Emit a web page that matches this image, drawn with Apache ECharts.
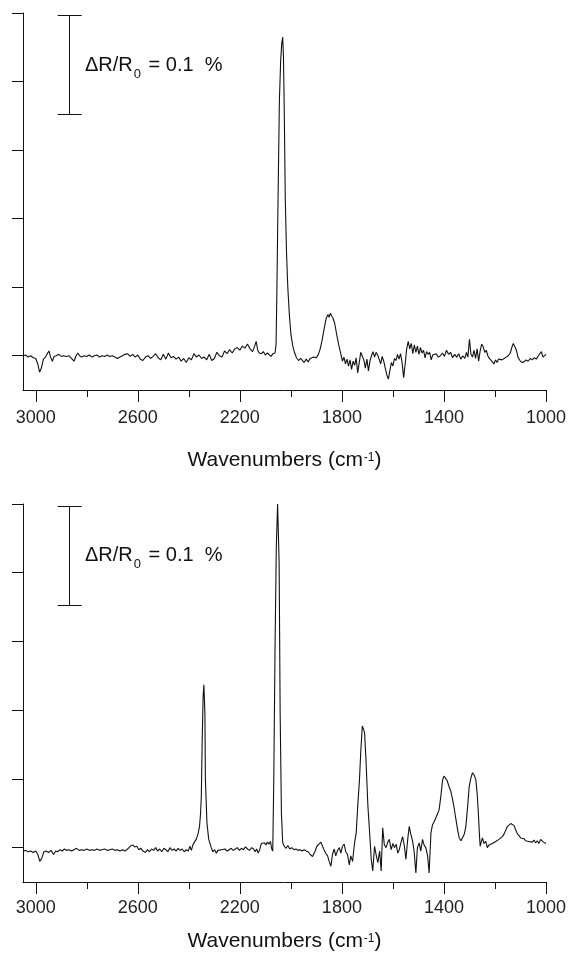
<!DOCTYPE html>
<html>
<head>
<meta charset="utf-8">
<script src="https://cdn.jsdelivr.net/npm/echarts@6/dist/echarts.min.js"></script>
<style>
html, body { margin: 0; padding: 0; background: #fff; }
#chart { width: 569px; height: 955px; }
</style>
</head>
<body>
<div id="chart"></div>
<script>
// tick positions (cm-1) and y ticks (arbitrary units, one unit per tick)
var xTickMajor = [3000, 2600, 2200, 1800, 1400, 1000];
var xTickMinor = [2800, 2400, 2000, 1600, 1200];
var yTicks = [0, 1, 2, 3, 4, 5];

// scale bar  (dR/R0 = 0.1 %)
var scaleBarX = [2914, 2867, 2820];
var scaleBarY = [4.97, 3.52];

// upper spectrum [wavenumber, signal]
var topSpectrum = [
  [3050,0.0],[3040,0.01],[3030,-0.02],[3020,0.0],[3010,-0.03],[3000,-0.04],[2992,-0.12],[2985,-0.24],
  [2978,-0.18],[2970,-0.05],[2962,-0.02],[2955,0.03],[2948,0.07],[2942,-0.02],[2935,-0.08],[2928,-0.01],
  [2920,0.0],[2910,0.02],[2900,-0.01],[2890,0.0],[2880,-0.01],[2870,0.0],[2860,-0.04],[2850,-0.08],
  [2842,0.0],[2835,0.04],[2828,0.0],[2820,-0.02],[2810,0.0],[2800,-0.01],[2790,0.01],[2780,-0.02],
  [2770,0.0],[2760,0.01],[2750,-0.02],[2740,0.0],[2730,-0.01],[2720,0.01],[2710,-0.01],[2700,0.0],
  [2690,-0.02],[2680,-0.04],[2670,-0.02],[2660,0.0],[2650,0.02],[2640,0.03],[2630,-0.01],[2620,0.02],
  [2610,-0.02],[2600,0.01],[2590,-0.05],[2580,-0.07],[2570,-0.02],[2560,0.0],[2550,-0.04],[2540,-0.01],
  [2530,0.03],[2520,-0.03],[2510,-0.06],[2500,0.02],[2490,-0.05],[2480,0.04],[2470,-0.03],[2460,-0.01],
  [2450,-0.05],[2440,-0.02],[2430,-0.08],[2420,-0.04],[2410,-0.1],[2400,-0.03],[2390,-0.06],[2380,0.03],
  [2370,-0.02],[2360,0.01],[2350,-0.04],[2340,-0.02],[2330,-0.06],[2320,0.02],[2310,-0.07],[2300,-0.04],
  [2290,0.05],[2280,0.0],[2270,-0.02],[2260,0.07],[2250,0.03],[2240,0.09],[2230,0.04],[2220,0.1],
  [2210,0.12],[2200,0.08],[2190,0.14],[2180,0.11],[2170,0.17],[2160,0.1],[2150,0.06],[2142,0.14],
  [2136,0.21],[2130,0.08],[2124,0.04],[2116,0.03],[2108,0.06],[2100,0.01],[2092,0.04],[2085,0.02],
  [2078,-0.01],[2070,0.03],[2062,0.04],[2058,0.17],[2055,0.9],[2052,1.78],[2048,2.9],[2045,3.72],
  [2040,4.3],[2036,4.55],[2032,4.65],[2029,4.35],[2026,3.6],[2022,2.3],[2017,1.5],[2012,1.0],
  [2006,0.6],[2000,0.32],[1993,0.15],[1986,0.05],[1978,-0.03],[1970,-0.07],[1962,-0.04],[1955,-0.06],
  [1948,-0.1],[1940,-0.05],[1932,-0.09],[1925,-0.04],[1918,-0.06],[1910,-0.02],[1900,-0.03],[1892,0.02],
  [1885,0.1],[1878,0.22],[1870,0.38],[1862,0.54],[1855,0.6],[1850,0.56],[1845,0.62],[1840,0.58],
  [1835,0.55],[1828,0.47],[1820,0.3],[1812,0.15],[1805,0.04],[1798,-0.08],[1792,-0.02],[1786,-0.12],
  [1780,-0.05],[1774,-0.15],[1768,-0.06],[1762,-0.2],[1756,-0.08],[1750,-0.14],[1744,-0.03],[1738,-0.25],
  [1732,-0.1],[1726,0.05],[1720,0.07],[1714,-0.06],[1708,-0.18],[1702,-0.05],[1696,-0.22],[1690,-0.08],
  [1684,0.0],[1678,0.06],[1672,-0.02],[1666,0.05],[1660,0.01],[1654,-0.05],[1648,-0.12],[1642,-0.01],
  [1636,-0.08],[1630,-0.18],[1624,-0.28],[1618,-0.34],[1612,-0.22],[1606,-0.1],[1600,-0.15],[1594,-0.04],
  [1588,-0.07],[1582,0.02],[1576,-0.05],[1570,0.03],[1564,-0.1],[1558,-0.32],[1552,-0.12],[1546,0.1],
  [1540,0.21],[1534,0.1],[1528,0.18],[1522,0.03],[1516,0.16],[1510,0.05],[1504,0.14],[1498,0.02],
  [1492,0.12],[1486,0.04],[1480,0.08],[1474,-0.03],[1468,0.06],[1462,0.02],[1456,0.05],[1450,-0.06],
  [1444,0.01],[1438,0.0],[1430,0.03],[1422,-0.02],[1414,0.0],[1406,0.04],[1398,-0.01],[1390,0.08],
  [1382,0.02],[1374,0.05],[1366,-0.03],[1358,0.02],[1350,-0.02],[1342,0.03],[1334,-0.05],[1326,0.0],
  [1318,-0.04],[1312,0.05],[1306,-0.02],[1300,0.24],[1294,0.02],[1288,-0.02],[1282,0.08],[1276,-0.04],
  [1270,0.1],[1264,-0.08],[1258,0.07],[1252,0.17],[1246,0.13],[1240,0.05],[1234,0.08],[1228,0.0],
  [1222,-0.04],[1216,-0.02],[1210,-0.09],[1204,-0.12],[1198,-0.06],[1192,-0.1],[1186,-0.05],[1180,-0.04],
  [1172,-0.06],[1164,-0.04],[1156,-0.02],[1148,0.0],[1140,0.04],[1134,0.12],[1128,0.18],[1122,0.16],
  [1116,0.08],[1110,-0.02],[1102,-0.07],[1094,-0.1],[1086,-0.09],[1078,-0.06],[1070,-0.08],[1062,-0.04],
  [1054,-0.06],[1046,-0.03],[1038,-0.05],[1030,0.0],[1024,0.02],[1018,0.06],[1012,-0.02],[1006,-0.04],
  [1000,0.02]
];

// lower spectrum [wavenumber, signal]
var bottomSpectrum = [
  [3050,-0.05],[3040,-0.04],[3030,-0.06],[3020,-0.05],[3010,-0.07],[3000,-0.05],[2992,-0.1],[2984,-0.2],
  [2976,-0.15],[2968,-0.06],[2960,-0.05],[2950,-0.07],[2940,-0.04],[2930,-0.1],[2922,-0.05],[2914,-0.06],
  [2905,-0.03],[2896,-0.05],[2888,-0.02],[2880,-0.04],[2870,-0.03],[2860,-0.05],[2850,-0.03],[2840,-0.01],
  [2830,-0.04],[2820,-0.03],[2810,-0.04],[2800,-0.02],[2790,-0.04],[2780,-0.03],[2770,-0.04],[2760,-0.02],
  [2750,-0.04],[2740,-0.03],[2730,-0.02],[2720,-0.04],[2710,-0.03],[2700,-0.02],[2690,-0.04],[2680,-0.03],
  [2670,-0.05],[2660,-0.03],[2650,-0.05],[2640,-0.02],[2630,0.02],[2620,0.04],[2612,0.01],[2604,0.02],
  [2596,-0.03],[2588,-0.01],[2580,-0.05],[2570,-0.07],[2562,-0.03],[2554,-0.06],[2546,-0.02],[2538,-0.04],
  [2530,0.0],[2522,-0.05],[2514,-0.02],[2506,-0.06],[2498,-0.01],[2490,-0.03],[2482,-0.06],[2474,0.0],
  [2466,-0.04],[2458,-0.02],[2450,-0.05],[2442,-0.01],[2434,-0.04],[2426,-0.02],[2418,-0.06],[2410,-0.03],
  [2402,-0.05],[2396,0.02],[2390,-0.04],[2384,0.04],[2378,0.08],[2371,0.12],[2364,0.2],[2358,0.31],
  [2354,0.5],[2351,0.75],[2348,1.47],[2344,2.2],[2341,2.37],[2337,1.96],[2335,0.99],[2329,0.36],
  [2322,0.12],[2316,0.05],[2312,0.0],[2306,-0.06],[2299,-0.03],[2292,-0.08],[2286,-0.04],[2280,-0.06],
  [2272,-0.03],[2266,-0.05],[2258,-0.02],[2250,-0.05],[2242,-0.03],[2234,-0.01],[2226,-0.04],[2218,-0.02],
  [2210,0.0],[2202,-0.04],[2194,-0.01],[2186,-0.03],[2178,0.01],[2170,-0.02],[2162,-0.04],[2154,0.0],
  [2146,-0.02],[2140,-0.06],[2134,-0.02],[2128,-0.08],[2122,-0.03],[2116,0.06],[2110,0.05],[2104,0.07],
  [2098,0.04],[2092,0.08],[2086,0.05],[2080,0.09],[2075,-0.02],[2071,-0.05],[2067,0.99],[2062,2.93],
  [2057,4.39],[2052,5.0],[2046,4.14],[2042,1.96],[2037,0.5],[2032,0.07],[2026,0.02],[2019,-0.01],
  [2012,0.03],[2004,-0.02],[1996,0.0],[1988,-0.03],[1980,-0.02],[1972,-0.04],[1964,-0.03],[1956,-0.05],
  [1948,-0.03],[1940,-0.05],[1932,-0.06],[1924,-0.1],[1915,-0.13],[1906,-0.06],[1898,0.02],[1890,0.05],
  [1882,0.08],[1876,0.02],[1869,-0.04],[1862,-0.09],[1856,-0.12],[1850,-0.2],[1843,-0.27],[1837,-0.1],
  [1830,-0.02],[1824,-0.12],[1818,-0.05],[1810,0.0],[1804,-0.08],[1798,0.02],[1791,0.05],[1785,-0.06],
  [1778,-0.1],[1771,-0.25],[1765,-0.12],[1758,-0.2],[1751,0.05],[1744,0.21],[1738,0.6],[1731,0.99],
  [1726,1.4],[1720,1.77],[1715,1.72],[1711,1.67],[1705,1.23],[1698,0.6],[1692,0.26],[1685,-0.17],
  [1679,-0.34],[1672,0.02],[1666,-0.1],[1659,-0.22],[1652,-0.05],[1646,-0.34],[1640,0.29],[1634,0.05],
  [1627,0.0],[1620,0.08],[1614,0.12],[1607,-0.03],[1600,0.06],[1594,0.0],[1587,0.05],[1581,-0.08],
  [1575,-0.03],[1568,0.08],[1562,0.16],[1555,0.02],[1549,-0.17],[1542,0.12],[1536,0.31],[1530,0.2],
  [1523,0.1],[1517,-0.05],[1510,-0.37],[1504,0.0],[1497,0.07],[1491,-0.05],[1484,0.12],[1477,0.03],
  [1471,0.0],[1464,-0.12],[1458,-0.37],[1451,0.21],[1445,0.33],[1438,0.38],[1430,0.45],[1419,0.55],
  [1412,0.75],[1405,0.99],[1400,1.04],[1395,1.06],[1388,0.98],[1380,0.89],[1373,0.82],[1366,0.7],
  [1360,0.58],[1353,0.41],[1346,0.25],[1340,0.14],[1333,0.1],[1327,0.12],[1320,0.2],[1314,0.31],
  [1307,0.6],[1301,0.89],[1294,1.02],[1288,1.09],[1282,1.06],[1275,0.99],[1270,0.8],[1265,0.5],
  [1261,0.2],[1258,0.02],[1254,0.08],[1249,0.14],[1243,0.06],[1236,0.09],[1230,0.0],[1223,0.04],
  [1216,0.02],[1210,0.06],[1204,0.05],[1197,0.09],[1190,0.1],[1184,0.12],[1177,0.14],[1171,0.16],
  [1164,0.2],[1157,0.26],[1151,0.31],[1144,0.33],[1138,0.35],[1132,0.36],[1125,0.32],[1119,0.26],
  [1112,0.2],[1105,0.17],[1099,0.14],[1092,0.12],[1086,0.13],[1080,0.1],[1073,0.12],[1067,0.09],
  [1060,0.1],[1054,0.08],[1047,0.11],[1041,0.07],[1034,0.1],[1028,0.06],[1021,0.12],[1015,0.14],
  [1010,0.08],[1005,0.07],[1000,0.06]
];

var FONT = 'Liberation Sans';
var INK = '#111';

function scaleBar() {
  return {
    silent: true,
    symbol: ['none', 'none'],
    label: { show: false },
    lineStyle: { color: INK, width: 1, type: 'solid' },
    emphasis: { disabled: true },
    data: [
      [{ coord: [scaleBarX[0], scaleBarY[0]] }, { coord: [scaleBarX[2], scaleBarY[0]] }],
      [{ coord: [scaleBarX[1], scaleBarY[0]] }, { coord: [scaleBarX[1], scaleBarY[1]] }],
      [{ coord: [scaleBarX[0], scaleBarY[1]] }, { coord: [scaleBarX[2], scaleBarY[1]] }]
    ]
  };
}

function xAxes(grid, labelMargin, nameGap) {
  var major = {
    type: 'value', gridIndex: grid, min: 1000, max: 3050, inverse: true, position: 'bottom',
    axisLine: { show: true, onZero: false, lineStyle: { color: INK, width: 1 } },
    axisTick: { show: true, customValues: xTickMajor, length: 12, lineStyle: { color: INK } },
    axisLabel: { show: true, customValues: xTickMajor, margin: labelMargin,
      fontFamily: FONT, fontSize: 18, color: '#222',
      formatter: function (v) { return String(v); } },
    splitLine: { show: false },
    name: '{t|Wavenumbers (cm}{s|-1}{t|)}',
    nameLocation: 'middle',
    nameGap: nameGap,
    nameTextStyle: {
      rich: {
        t: { fontFamily: FONT, fontSize: 21, color: INK, lineHeight: 24, verticalAlign: 'top' },
        s: { fontFamily: FONT, fontSize: 12, color: INK, lineHeight: 12, verticalAlign: 'top', padding: [2, 0, 0, 1] }
      }
    }
  };
  var minor = {
    type: 'value', gridIndex: grid, min: 1000, max: 3050, inverse: true, position: 'bottom',
    axisLine: { show: false, onZero: false },
    axisTick: { show: true, customValues: xTickMinor, length: 7, lineStyle: { color: INK } },
    axisLabel: { show: false },
    splitLine: { show: false }
  };
  return [major, minor];
}

function yAxis(grid) {
  return {
    type: 'value', gridIndex: grid, min: -0.5, max: 5, position: 'left',
    axisLine: { show: true, onZero: false, lineStyle: { color: INK, width: 1 } },
    axisTick: { show: true, customValues: yTicks, length: 11, lineStyle: { color: INK } },
    axisLabel: { show: false },
    splitLine: { show: false }
  };
}

function annotation(top) {
  return {
    type: 'text', left: 85, top: top, silent: true,
    style: {
      text: '{a|ΔR/R}{s|0}{a| = 0.1  %}',
      rich: {
        a: { fontFamily: FONT, fontSize: 20, fill: INK, lineHeight: 22, verticalAlign: 'top' },
        s: { fontFamily: FONT, fontSize: 13, fill: INK, lineHeight: 13, verticalAlign: 'top', padding: [13, 2, 0, 1] }
      }
    }
  };
}

var myChart = echarts.init(document.getElementById('chart'));
var option = {
  animation: false,
  backgroundColor: '#fff',
  grid: [
    { left: 23, top: 13, width: 524, height: 377 },
    { left: 23, top: 504, width: 524, height: 378 }
  ],
  xAxis: xAxes(0, 19, 60).concat(xAxes(1, 17, 49)),
  yAxis: [yAxis(0), yAxis(1)],
  series: [
    {
      type: 'line', xAxisIndex: 0, yAxisIndex: 0, data: topSpectrum,
      showSymbol: false, lineStyle: { color: INK, width: 1.1 },
      markLine: scaleBar()
    },
    {
      type: 'line', xAxisIndex: 2, yAxisIndex: 1, data: bottomSpectrum,
      showSymbol: false, lineStyle: { color: INK, width: 1.1 },
      markLine: scaleBar()
    }
  ],
  graphic: [annotation(55), annotation(545)]
};
myChart.setOption(option);
</script>
</body>
</html>
